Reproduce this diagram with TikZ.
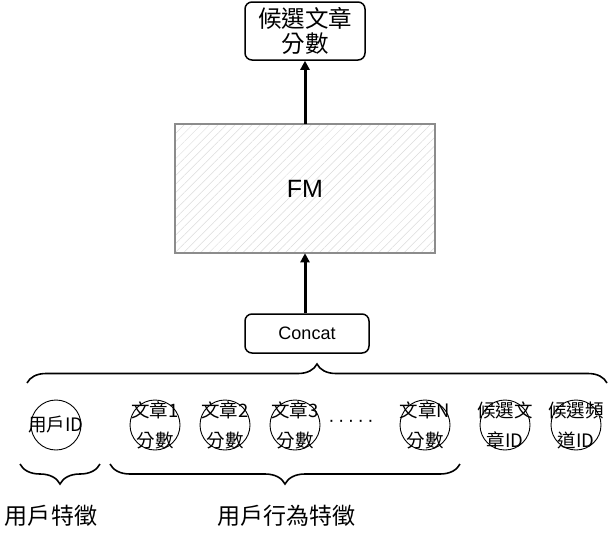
\documentclass[tikz,border=0pt]{standalone}
\usepackage{fontspec}
\setmainfont{Noto Sans CJK TC}
\newfontfamily\latinfont{Liberation Sans}
\usetikzlibrary{arrows.meta,decorations.pathreplacing,patterns.meta}
\newcommand{\mydots}{·\hspace{3.4pt}·\hspace{3.4pt}·\hspace{3.4pt}·\hspace{3.4pt}·}
\begin{document}
\begin{tikzpicture}[x=1pt,y=1pt,
  rbox/.style={draw, line width=1.5pt, rounded corners=7pt, align=center, inner sep=0pt},
  circ/.style={draw, circle, line width=0.9pt, minimum size=50pt, inner sep=0pt},
  ctext/.style={inner sep=0pt, align=center, font=\fontsize{18.5}{30}\selectfont},
  bigarrow/.style={line width=3pt, -{Triangle[length=9pt,width=9pt]}},
  brc/.style={decorate, decoration={brace, amplitude=#1}, line width=1.6pt},
  lbl/.style={font=\fontsize{23}{23}\selectfont, inner sep=0pt},
]
\useasboundingbox (0,0) rectangle (609,-538);
\node[rbox, minimum width=120pt, minimum height=58pt, font=\fontsize{23.5}{25}\selectfont] (score) at (305,-31) {候選文章\\分數};
\node[draw=gray!90, line width=1.5pt, pattern={Lines[angle=45, distance=6pt, line width=0.5pt]}, pattern color=gray!28, minimum width=260pt, minimum height=129pt, font=\latinfont\fontsize{25}{25}\selectfont] (fm) at (305,-188.5) {FM};
\node[rbox, minimum width=124pt, minimum height=39pt, font=\latinfont\fontsize{18}{18}\selectfont] (concat) at (307,-333.5) {Concat};
\draw[bigarrow] (fm.south |- concat.north) -- (fm.south);
\draw[bigarrow] (fm.north) -- (score.south);
% circles
\node[circ] (uid) at (56,-425) {};
\node[ctext] (uidt) at (uid) {用戶ID};
\node[circ] (a1) at (155,-425) {};
\node[ctext] (a1t) at (a1) {文章1\\分數};
\node[circ] (a2) at (225,-425) {};
\node[ctext] (a2t) at (a2) {文章2\\分數};
\node[circ] (a3) at (295,-425) {};
\node[ctext] (a3t) at (a3) {文章3\\分數};
\node[font=\latinfont\fontsize{19}{19}\selectfont] (dots) at (351,-423) {\mydots};
\node[circ] (aN) at (425,-425) {};
\node[ctext] (aNt) at (aN) {文章N\\分數};
\node[circ] (cand) at (505,-425) {};
\node[ctext] (candt) at (cand) {候選文\\章ID};
\node[circ] (chan) at (576,-425) {};
\node[ctext] (chant) at (chan) {候選頻\\道ID};
% braces
\coordinate (bl) at (27,-383);
\coordinate (br) at (607,-383);
\draw[brc=19pt] (bl) -- (br);
\coordinate (ul) at (20,-464);
\coordinate (ur) at (100,-464);
\draw[brc=20pt] (ur) -- (ul);
\coordinate (hl) at (110,-464);
\coordinate (hr) at (460,-464);
\draw[brc=20pt] (hr) -- (hl);
\node[lbl] (l1) at (51,-516) {用戶特徵};
\node[lbl] (l2) at (286,-516) {用戶行為特徵};
\end{tikzpicture}
\end{document}
